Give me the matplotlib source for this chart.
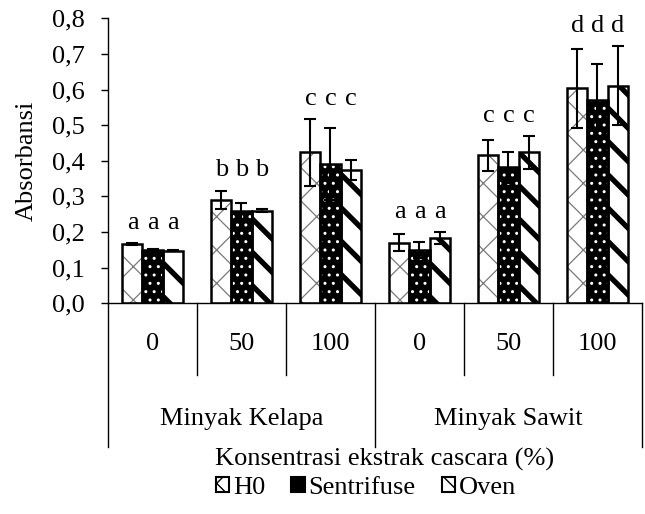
import numpy as np
import matplotlib.pyplot as plt
import matplotlib.patches as mpatches

plt.rcParams['font.family'] = ['Liberation Serif', 'DejaVu Serif']
plt.rcParams['font.size'] = 19

oils = ["Minyak Kelapa", "Minyak Sawit"]
conc = ["0", "50", "100"]
series = ["H0", "Sentrifuse", "Oven"]

h0 = [0.166, 0.290, 0.424, 0.170, 0.415, 0.603]
sentrifuse = [0.150, 0.260, 0.391, 0.150, 0.382, 0.571]
oven = [0.148, 0.260, 0.374, 0.183, 0.424, 0.611]

h0_err = [0.003, 0.026, 0.094, 0.024, 0.044, 0.111]
sentrifuse_err = [0.002, 0.022, 0.100, 0.023, 0.044, 0.101]
oven_err = [0.001, 0.004, 0.028, 0.016, 0.046, 0.111]

letters = ["a", "b", "c", "a", "c", "d"]

W, H = 645, 514
fig = plt.figure(figsize=(W / 100, H / 100), dpi=100)
x0, x1, ytop, ybot = 108, 642, 18.3, 303.3
ax = fig.add_axes([x0 / W, 1 - ybot / H, (x1 - x0) / W, (ybot - ytop) / H])

x = np.arange(6) + 0.5
bw = 0.225

# fill, hatch colour, hatch, hatch linewidth
styles = [("white", "#7a7a7a", "x", 0.9),
          ("black", "white", "..", 1.0),
          ("white", "black", "\\", 3.8)]
values = [h0, sentrifuse, oven]
errs = [h0_err, sentrifuse_err, oven_err]

for k in range(3):
    face, hcol, hatch, hlw = styles[k]
    pos = x + (k - 1) * bw
    with plt.rc_context({'hatch.linewidth': hlw}):
        bars = ax.bar(pos, values[k], bw, color=face, edgecolor=hcol,
                      hatch=hatch, linewidth=0, zorder=2)
        for b in bars:
            if hasattr(b, 'set_hatch_linewidth'):
                b.set_hatch_linewidth(hlw)
    ax.bar(pos, values[k], bw, fill=False, edgecolor="black",
           linewidth=1.8, zorder=3)
    ax.errorbar(pos, values[k], yerr=errs[k], fmt="none", ecolor="black",
                elinewidth=1.5, capsize=4.5, capthick=1.5, zorder=4)

# significance letters above each group
for i in range(6):
    top = max(values[k][i] + errs[k][i] for k in range(3))
    for k in range(3):
        ax.text(x[i] + (k - 1) * bw, top + 0.04, letters[i],
                ha="center", va="baseline")

ax.set_xlim(0, 6)
ax.set_ylim(0, 0.8)
ax.set_yticks(np.arange(0, 0.81, 0.1))
ax.set_yticklabels([f"{v:.1f}".replace(".", ",") for v in np.arange(0, 0.81, 0.1)])
ax.set_xticks([])
ax.tick_params(axis="y", direction="out", length=5, width=1, pad=12)
for s in ["top", "right"]:
    ax.spines[s].set_visible(False)
ax.spines["left"].set_linewidth(1)
ax.spines["bottom"].set_linewidth(1)

ax.set_ylabel("Absorbansi")
ax.yaxis.set_label_coords((38 - x0) / (x1 - x0), 0.5)

# two-level category axis
hpx = ybot - ytop
inner = -72 / hpx
outer = -144 / hpx
tr = ax.get_xaxis_transform()
for xd in [1, 2, 4, 5]:
    ax.plot([xd, xd], [0, inner], color="black", lw=1, transform=tr, clip_on=False)
for xd in [0, 3, 6]:
    ax.plot([xd, xd], [0, outer], color="black", lw=1, transform=tr, clip_on=False)
for i in range(6):
    ax.text(x[i], -41 / hpx, conc[i % 3], ha="center", va="center", transform=tr)
for j in range(2):
    ax.text(1.5 + 3 * j, -116 / hpx, oils[j], ha="center", va="center", transform=tr)

fig.text(385 / W, 1 - 459 / H, "Konsentrasi ekstrak cascara (%)", ha="center", va="center")

handles = [mpatches.Patch(facecolor=styles[k][0], edgecolor="black",
                          hatch=styles[k][2], linewidth=1.5) for k in range(3)]
fig.legend(handles, series, loc="center", bbox_to_anchor=(366 / W, 1 - 488 / H),
           ncol=3, frameon=False, handlelength=0.5, handleheight=0.5,
           handletextpad=0.15, columnspacing=1.0, borderpad=0)

fig.savefig("out.png", dpi=100)
